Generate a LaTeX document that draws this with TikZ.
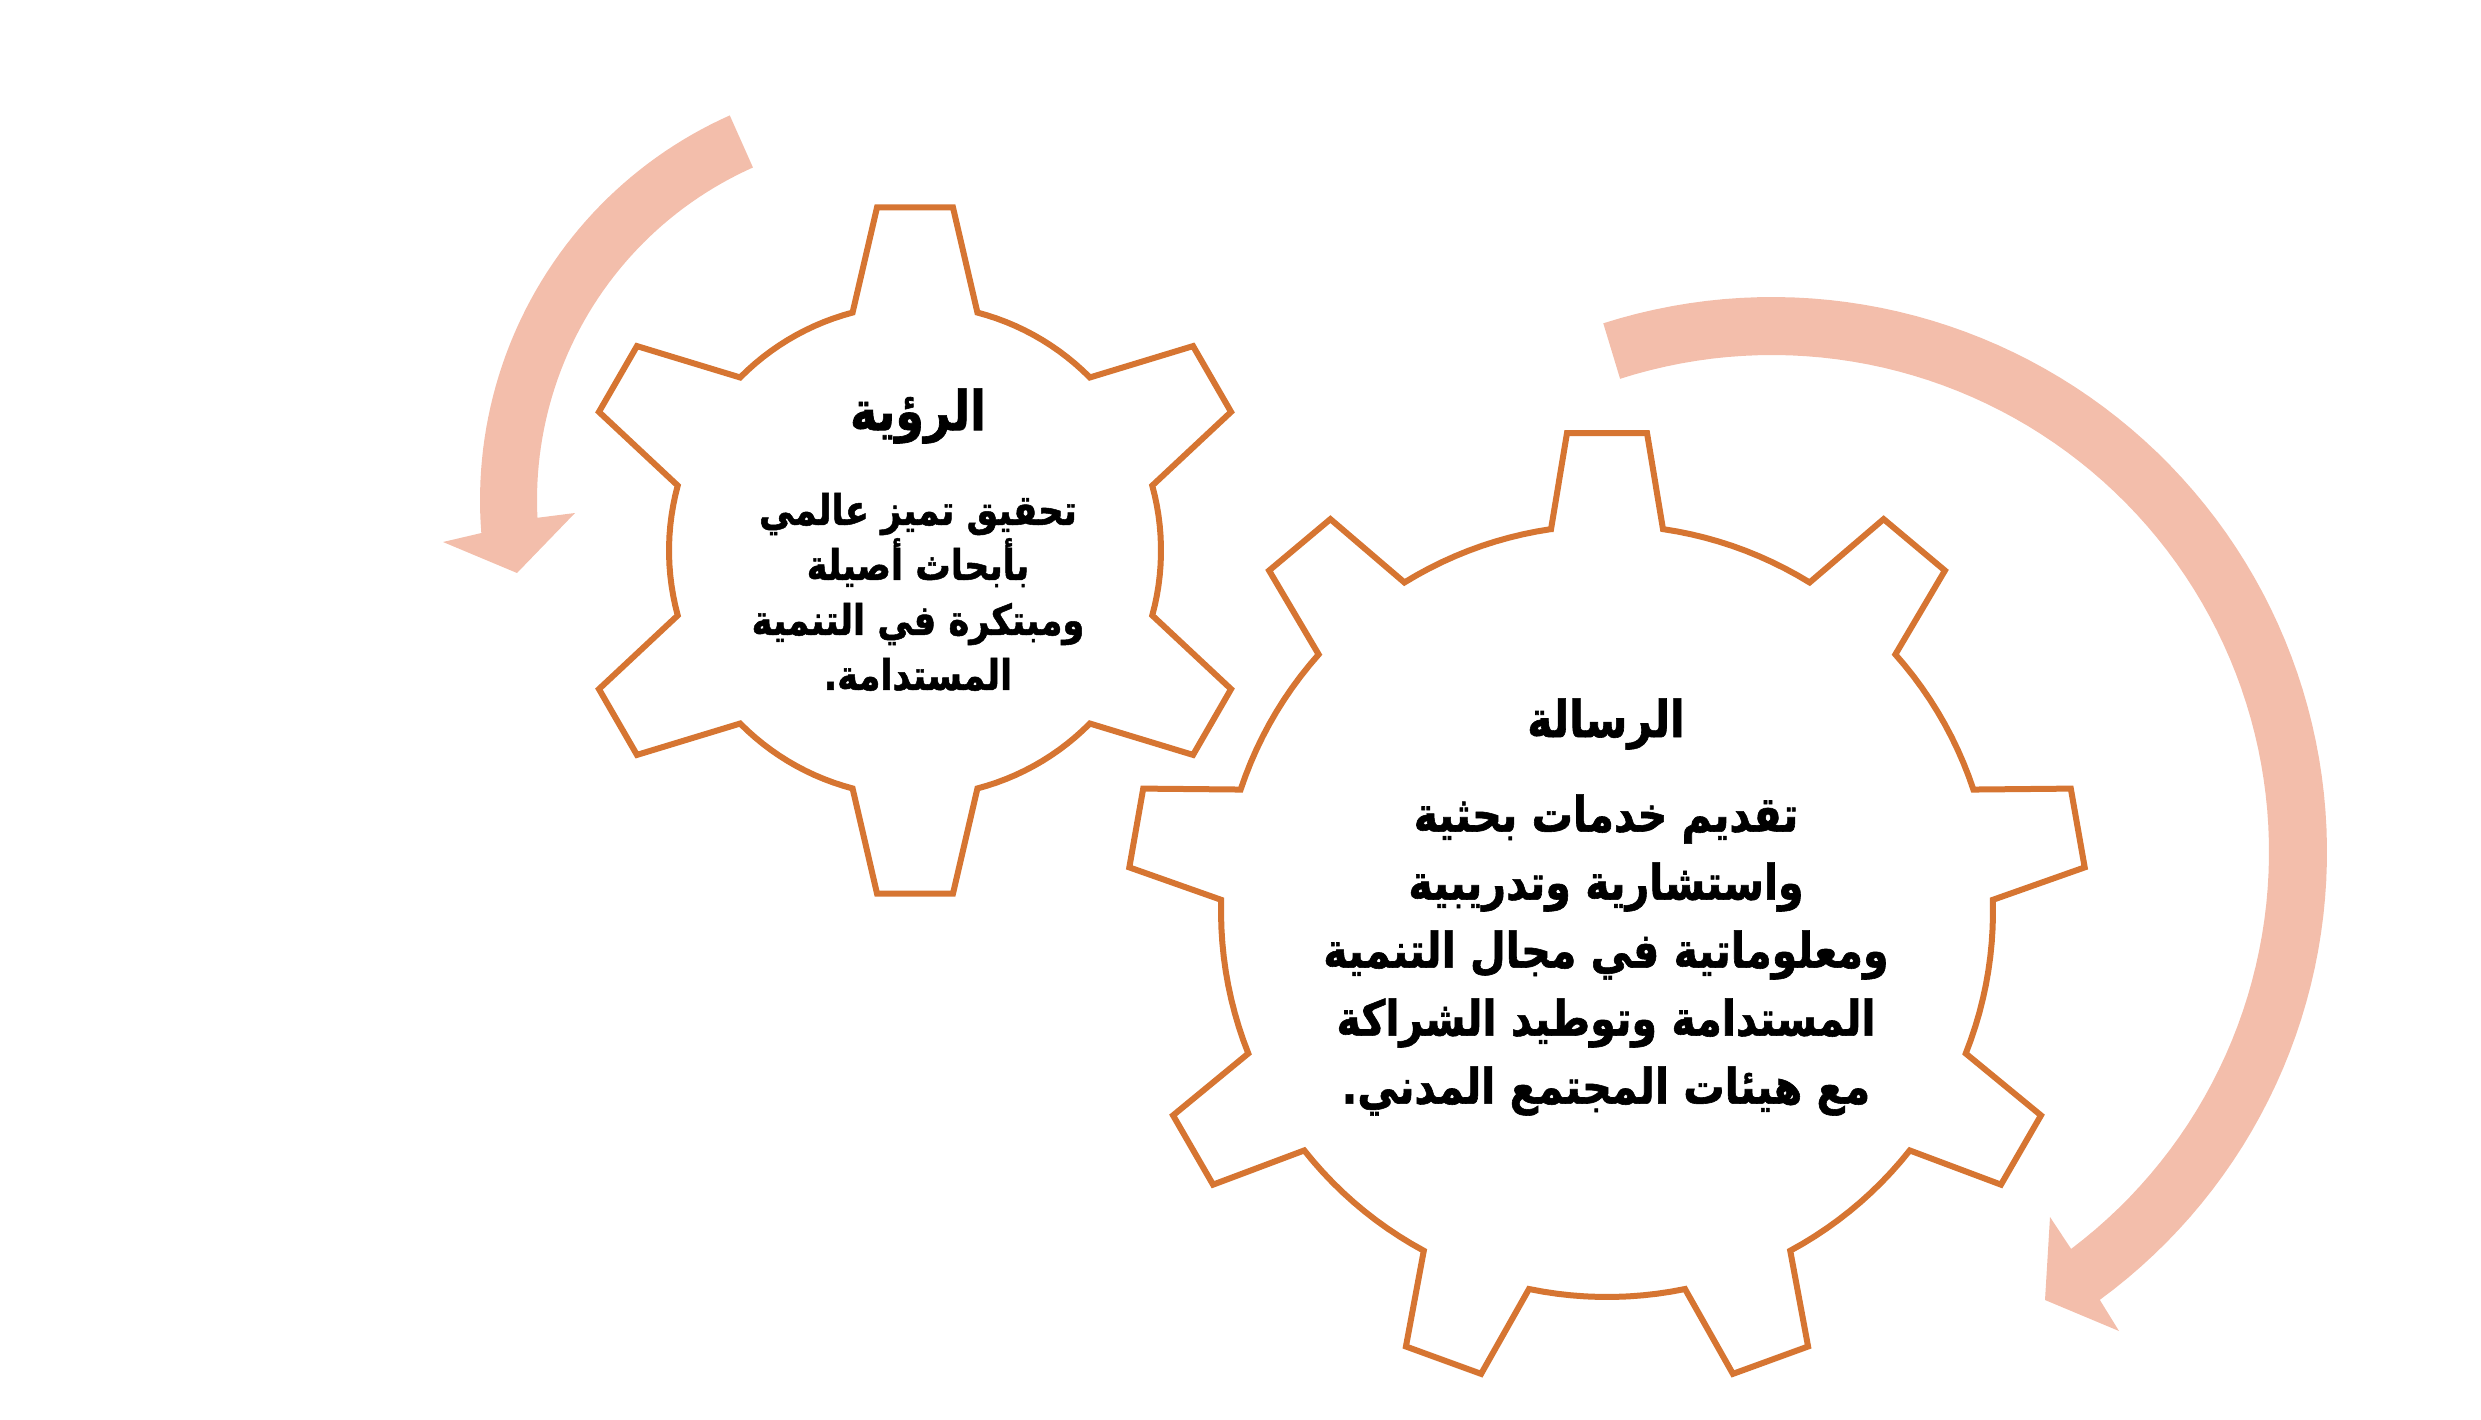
\documentclass[tikz,border=0pt]{standalone}
\usepackage{fontspec}
\newfontfamily\arabicfont[Script=Arabic, FakeStretch=0.84, BoldFeatures={FakeBold=1.2}]{DejaVu Sans}
\TeXXeTstate=1
\usetikzlibrary{calc}
\definecolor{gearline}{RGB}{214,117,50}
\definecolor{arrowfill}{RGB}{243,190,171}
\begin{document}
\begin{tikzpicture}[x=1pt,y=-1pt,
  gear/.style={draw=gearline, line width=6pt, line join=miter, fill=white},
  bendarrow/.style={fill=arrowfill, draw=none},
  ttlS/.style={font=\arabicfont\bfseries\fontsize{55}{64}\selectfont, align=center, inner sep=0pt},
  bodyS/.style={font=\arabicfont\bfseries\fontsize{42}{55}\selectfont, align=center, inner sep=0pt},
  ttlB/.style={font=\arabicfont\bfseries\fontsize{51}{60}\selectfont, align=center, inner sep=0pt},
  bodyB/.style={font=\arabicfont\bfseries\fontsize{49}{68}\selectfont, align=center, inner sep=0pt},
]
\useasboundingbox (0,0) rectangle (2481,1420);

% small curved arrow
\fill[bendarrow] plot[domain=-114:-184.5, samples=50] ({901+421*cos(\x)},{500+421*sin(\x)})
  -- (443,542) -- (517,573) -- (575,513)
  -- plot[domain=-182.8:-114, samples=50] ({901+364*cos(\x)},{500+364*sin(\x)}) -- cycle;

% big curved arrow
\fill[bendarrow] plot[domain=-107.7:53.8, samples=90] ({1772+555*cos(\x)},{852+555*sin(\x)})
  -- (2119,1331) -- (2045,1300) -- (2050,1217)
  -- plot[domain=53:-107.8, samples=90] ({1772+497*cos(\x)},{852+497*sin(\x)}) -- cycle;

% small gear (6 teeth)
\draw[gear] ({915+246*cos(-104.7)},{550.5+246*sin(-104.7)})
  \foreach \p [evaluate=\p as \a using \p+14.7, evaluate=\p as \b using \p+45.3] in {-90,-30,...,210} {
    -- ({915+343*cos(\p)+38*sin(\p)},{550.5+343*sin(\p)-38*cos(\p)})
    -- ({915+343*cos(\p)-38*sin(\p)},{550.5+343*sin(\p)+38*cos(\p)})
    -- plot[domain=\a:\b, samples=14] ({915+246*cos(\x)},{550.5+246*sin(\x)})
  } -- cycle;

% big gear (9 teeth)
\draw[gear] ({1607+386*cos(-98.34)},{911+386*sin(-98.34)})
  \foreach \p [evaluate=\p as \a using \p+8.34, evaluate=\p as \b using \p+31.66] in {-90,-50,...,230} {
    -- ({1607+478*cos(\p)+40*sin(\p)},{911+478*sin(\p)-40*cos(\p)})
    -- ({1607+478*cos(\p)-40*sin(\p)},{911+478*sin(\p)+40*cos(\p)})
    -- plot[domain=\a:\b, samples=12] ({1607+386*cos(\x)},{911+386*sin(\x)})
  } -- cycle;

% texts
\node[ttlS] (visiontitle) at (918,416) {\beginR الرؤية\endR};
\node[bodyS] (visionbody) at (918,592) {\beginR تحقيق تميز عالمي\endR\\ \beginR بأبحاث أصيلة\endR\\ \beginR ومبتكرة في التنمية\endR\\ \beginR المستدامة.\endR};

\node[ttlB] (missiontitle) at (1606,724) {\beginR الرسالة\endR};
\node[bodyB] (missionbody) at (1606,955) {\beginR تقديم خدمات بحثية\endR\\ \beginR واستشارية وتدريبية\endR\\ \beginR ومعلوماتية في مجال التنمية\endR\\ \beginR المستدامة وتوطيد الشراكة\endR\\ \beginR مع هيئات المجتمع المدني.\endR};
\end{tikzpicture}
\end{document}
